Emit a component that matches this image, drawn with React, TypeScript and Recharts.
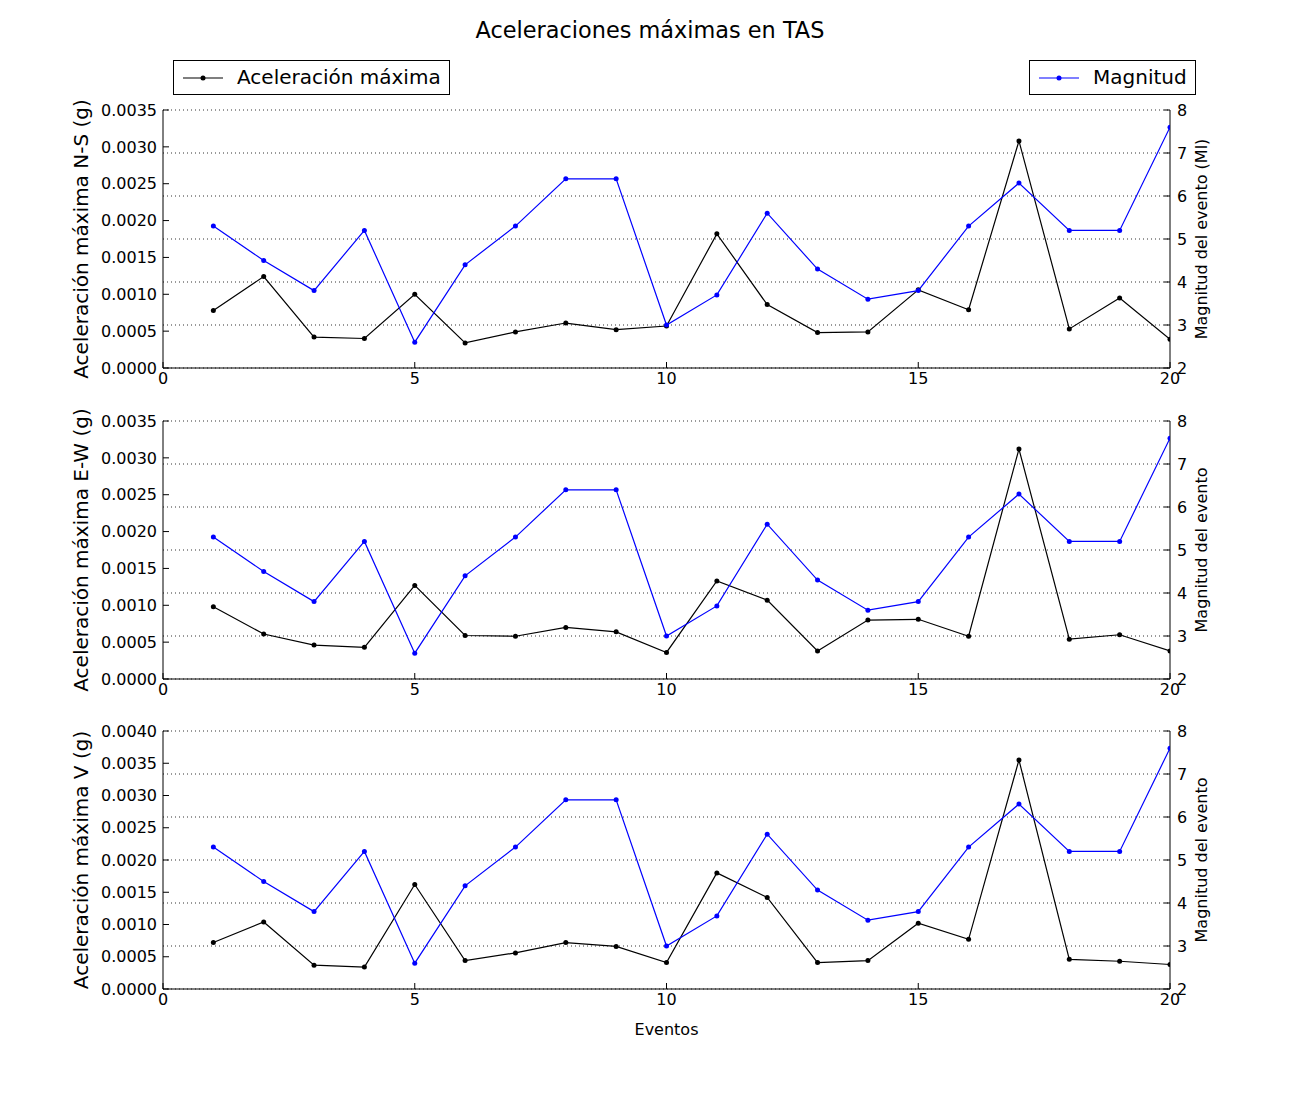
import { LineChart, Line, XAxis, YAxis, CartesianGrid } from 'recharts'

// ─── Data ─────────────────────────────────────────────────────────────────────

const eventos = [1, 2, 3, 4, 5, 6, 7, 8, 9, 10, 11, 12, 13, 14, 15, 16, 17, 18, 19, 20]
const magnitud = [5.3, 4.5, 3.8, 5.2, 2.6, 4.4, 5.3, 6.4, 6.4, 3.0, 3.7, 5.6, 4.3, 3.6, 3.8, 5.3, 6.3, 5.2, 5.2, 7.6]

const aceleracionNS = [
  0.00078, 0.00124, 0.00042, 0.0004, 0.001, 0.00034, 0.00049, 0.00061, 0.00052, 0.00057,
  0.00182, 0.00086, 0.00048, 0.00049, 0.00106, 0.00079, 0.00308, 0.00053, 0.00095, 0.00039,
]
const aceleracionEW = [
  0.00098, 0.00061, 0.00046, 0.00043, 0.00127, 0.00059, 0.00058, 0.0007, 0.00064, 0.00036,
  0.00133, 0.00107, 0.00038, 0.0008, 0.00081, 0.00058, 0.00312, 0.00054, 0.0006, 0.00038,
]
const aceleracionV = [
  0.00072, 0.00104, 0.00037, 0.00034, 0.00162, 0.00044, 0.00056, 0.00072, 0.00066, 0.00041,
  0.0018, 0.00142, 0.00041, 0.00044, 0.00102, 0.00077, 0.00355, 0.00046, 0.00043, 0.00038,
]

const xTicks = [0, 5, 10, 15, 20]
const magTicks = [2, 3, 4, 5, 6, 7, 8]
const accTicks35 = [0, 0.0005, 0.001, 0.0015, 0.002, 0.0025, 0.003, 0.0035]
const accTicks40 = [0, 0.0005, 0.001, 0.0015, 0.002, 0.0025, 0.003, 0.0035, 0.004]

// ─── Style ────────────────────────────────────────────────────────────────────

const FONT = '"DejaVu Sans", Verdana, sans-serif'
const BLACK = '#000000'
const BLUE = '#0000ff'
const PLOT_H = 258

// ─── Axis titles ──────────────────────────────────────────────────────────────

function VTitle(props: any) {
  const { viewBox, cx, text, size } = props
  const cy = viewBox.y + viewBox.height / 2
  return (
    <text
      x={cx} y={cy}
      transform={`rotate(-90 ${cx} ${cy})`}
      textAnchor="middle" dominantBaseline="central"
      fontSize={size} fill={BLACK}
    >
      {text}
    </text>
  )
}

function HTitle(props: any) {
  const { viewBox, text } = props
  return (
    <text
      x={viewBox.x + viewBox.width / 2} y={viewBox.y + 46}
      textAnchor="middle" fontSize={16} fill={BLACK}
    >
      {text}
    </text>
  )
}

// ─── One panel ────────────────────────────────────────────────────────────────

function Panel({ top, acc, ticks, yLabel, magLabel, xLabel }: {
  top: number
  acc: number[]
  ticks: number[]
  yLabel: string
  magLabel: string
  xLabel?: string
}) {
  const rows = eventos.map((e, i) => ({ evento: e, acc: acc[i], mag: magnitud[i] }))
  const xAxisH = xLabel ? 60 : 30
  const height = 15 + PLOT_H + xAxisH + 5

  return (
    <div style={{ position: 'absolute', left: 0, top: top - 15 }}>
      <LineChart
        width={1300} height={height} data={rows}
        margin={{ top: 15, right: 50, bottom: 5, left: 60 }}
      >
        <CartesianGrid
          yAxisId="mag" vertical={false}
          stroke="#333" strokeDasharray="1 3"
        />
        <XAxis
          dataKey="evento" type="number" domain={[0, 20]} ticks={xTicks}
          allowDataOverflow height={xAxisH}
          tickSize={-6} tickMargin={11}
          axisLine={{ stroke: BLACK }} tickLine={{ stroke: BLACK }}
          tick={{ fill: BLACK, fontSize: 16 }}
          label={xLabel ? <HTitle text={xLabel} /> : undefined}
        />
        <XAxis
          xAxisId="top" orientation="top"
          dataKey="evento" type="number" domain={[0, 20]} ticks={xTicks}
          allowDataOverflow height={0}
          tickSize={-6} tick={false}
          axisLine={{ stroke: BLACK }} tickLine={{ stroke: BLACK }}
        />
        <YAxis
          yAxisId="acc" orientation="left" width={103}
          type="number" domain={[0, ticks[ticks.length - 1]]} ticks={ticks}
          allowDataOverflow
          tickSize={-6} tickMargin={12}
          tickFormatter={(v: number) => v.toFixed(4)}
          axisLine={{ stroke: BLACK }} tickLine={{ stroke: BLACK }}
          tick={{ fill: BLACK, fontSize: 16 }}
          label={<VTitle cx={81} text={yLabel} size={20} />}
        />
        <YAxis
          yAxisId="mag" orientation="right" width={80}
          type="number" domain={[2, 8]} ticks={magTicks}
          allowDataOverflow
          tickSize={-6} tickMargin={13}
          axisLine={{ stroke: BLACK }} tickLine={{ stroke: BLACK }}
          tick={{ fill: BLACK, fontSize: 16 }}
          label={<VTitle cx={1201} text={magLabel} size={16} />}
        />
        <Line
          yAxisId="acc" dataKey="acc" stroke={BLACK} strokeWidth={1.2}
          dot={{ r: 2.5, fill: BLACK, stroke: BLACK, strokeWidth: 0 }}
          activeDot={false} isAnimationActive={false}
        />
        <Line
          yAxisId="mag" dataKey="mag" stroke={BLUE} strokeWidth={1.2}
          dot={{ r: 2.5, fill: BLUE, stroke: BLUE, strokeWidth: 0 }}
          activeDot={false} isAnimationActive={false}
        />
      </LineChart>
    </div>
  )
}

// ─── Legend box ───────────────────────────────────────────────────────────────

function LegendBox({ left, width, color, text }: { left: number; width: number; color: string; text: string }) {
  return (
    <div style={{
      position: 'absolute', left, top: 60, width, height: 35,
      boxSizing: 'border-box', border: `1px solid ${BLACK}`, background: '#fff',
    }}>
      <svg width={40} height={10} style={{ position: 'absolute', left: 9, top: 12 }}>
        <line x1={0} y1={5} x2={40} y2={5} stroke={color} strokeWidth={1.2} />
        <circle cx={20} cy={5} r={2.5} fill={color} />
      </svg>
      <div style={{
        position: 'absolute', left: 63, top: 4, fontSize: 20, lineHeight: '24px', color: BLACK,
        whiteSpace: 'nowrap',
      }}>
        {text}
      </div>
    </div>
  )
}

// ─── Main ─────────────────────────────────────────────────────────────────────

export default function App() {
  return (
    <div style={{
      position: 'absolute', left: 0, top: 0, width: 1300, height: 1100,
      background: '#fff', fontFamily: FONT,
    }}>
      <div style={{
        position: 'absolute', left: 0, top: 16, width: 1300, textAlign: 'center',
        fontSize: 22.4, lineHeight: '28px', color: BLACK,
      }}>
        Aceleraciones máximas en TAS
      </div>

      <LegendBox left={173} width={277} color={BLACK} text="Aceleración máxima" />
      <LegendBox left={1029} width={167} color={BLUE} text="Magnitud" />

      <Panel
        top={110} acc={aceleracionNS} ticks={accTicks35}
        yLabel="Aceleración máxima N-S (g)" magLabel="Magnitud del evento (Ml)"
      />
      <Panel
        top={421} acc={aceleracionEW} ticks={accTicks35}
        yLabel="Aceleración máxima E-W (g)" magLabel="Magnitud del evento"
      />
      <Panel
        top={731} acc={aceleracionV} ticks={accTicks40}
        yLabel="Aceleración máxima V (g)" magLabel="Magnitud del evento"
        xLabel="Eventos"
      />
    </div>
  )
}
